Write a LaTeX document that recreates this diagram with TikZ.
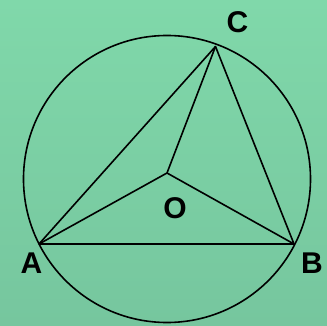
\documentclass[tikz,border=0pt]{standalone}
\usepackage{fontspec}
\setmainfont{Liberation Sans}
\definecolor{bgtop}{RGB}{128,216,170}
\definecolor{bgbot}{RGB}{118,198,158}
\begin{document}
\begin{tikzpicture}[x=1pt,y=-1pt,
  edge/.style={line width=1.6pt, line join=round},
  lbl/.style={font=\fontsize{30}{30}\selectfont\bfseries, inner sep=0pt}]
\shade[top color=bgtop, bottom color=bgbot] (0,0) rectangle (327,326);
\useasboundingbox (0,0) rectangle (327,326);
\coordinate (A) at (39,244);
\coordinate (B) at (294,244);
\coordinate (C) at (215.5,46.5);
\coordinate (O) at (167,173);
\coordinate (M) at (167,179);
\draw[edge] (M) circle [radius=143.5];
\draw[edge] (A) -- (B) -- (C) -- cycle;
\draw[edge] (A) -- (O) -- (B);
\draw[edge] (O) -- (C);
\node[lbl] (lC) at (237.5,22) {C};
\node[lbl] (lO) at (175,208) {O};
\node[lbl] (lA) at (31.5,263) {A};
\node[lbl] (lB) at (312,263) {B};
\end{tikzpicture}
\end{document}
